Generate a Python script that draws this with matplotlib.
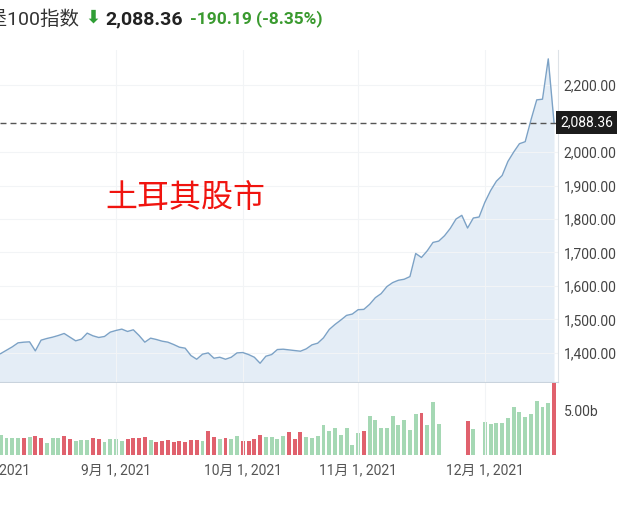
import numpy as np
import pandas as pd
import matplotlib
matplotlib.use("Agg")
import matplotlib.pyplot as plt
from matplotlib.transforms import blended_transform_factory

plt.rcParams['font.family'] = ['Roboto', 'Noto Sans CJK SC', 'DejaVu Sans']

# trading days (BIST closed on Aug 30 and Oct 29)
holidays = pd.to_datetime(['2021-08-30', '2021-10-29'])
dates = pd.bdate_range('2021-08-02', '2021-12-17')
dates = dates[~dates.isin(holidays)]

close = [1390, 1398, 1408, 1418, 1430, 1432, 1433, 1406, 1438, 1443,
         1447, 1452, 1458, 1447, 1436, 1441, 1459, 1451, 1446, 1449,
         1462, 1467, 1471, 1464, 1469, 1452, 1432, 1444, 1440, 1435,
         1432, 1425, 1417, 1414, 1392, 1381, 1396, 1400, 1384, 1387,
         1381, 1387, 1400, 1401, 1395, 1387, 1369, 1390, 1395, 1410,
         1411, 1409, 1407, 1405, 1412, 1424, 1429, 1445, 1470, 1485,
         1498, 1512, 1516, 1529, 1530, 1545, 1565, 1577, 1598, 1610,
         1617, 1620, 1628, 1697, 1685, 1705, 1730, 1734, 1750, 1772,
         1800, 1811, 1773, 1803, 1806, 1850, 1885, 1913, 1930, 1972,
         2000, 2025, 2031, 2096, 2156, 2158, 2278.55, 2088.36]

# volume in billions, 0 = no data
volume = [2.00, 2.27, 1.97, 1.97, 1.89, 1.89, 2.01, 2.16, 1.97, 1.40,
          1.97, 1.89, 2.16, 1.78, 1.59, 1.70, 1.70, 1.89, 1.78, 1.52,
          1.82, 1.78, 1.59, 1.78, 1.89, 1.97, 2.01, 1.70, 1.52, 1.63,
          1.70, 1.52, 1.59, 1.52, 1.70, 1.70, 1.59, 2.73, 2.01, 1.78,
          1.89, 1.78, 2.16, 1.59, 1.59, 1.78, 2.27, 2.01, 2.01, 1.78,
          2.16, 2.58, 1.78, 2.58, 2.01, 1.89, 2.16, 3.41, 2.73, 3.03,
          2.27, 3.03, 1.14, 2.54, 2.73, 4.40, 3.98, 3.10, 3.10, 4.43,
          3.41, 3.98, 2.84, 4.66, 4.81, 3.41, 6.06, 3.52, 0, 0,
          0, 0, 3.86, 2.92, 0, 3.79, 3.52, 3.67, 3.67, 4.24,
          5.49, 4.92, 4.36, 4.62, 6.17, 5.49, 5.87, 8.30]

vol_dir = ("GGGGGRGRRG" "GGRRGGGRRG" "GGGRRRRGRR" "RRRRRRGRRG" "RGGRRRRGGG"
           "GRRRGGGGGG" "GGGGRGGGGG" "GGGGRGGGGG" "GGRGGGGGGG" "GGGGGGGR")

price_ticks = [1400, 1500, 1600, 1700, 1800, 1900, 2000, 2200]
month_starts = ['2021-09-01', '2021-10-01', '2021-11-01', '2021-12-01']
month_labels = ['9月 1, 2021', '10月 1, 2021', '11月 1, 2021', '12月 1, 2021']

last = close[-1]
prev = close[-2]

x = np.arange(len(close))
tick_pos = [dates.get_indexer([pd.Timestamp(d)], method='bfill')[0] for d in month_starts]

line_c = '#7ca2c6'
fill_c = '#e4edf6'
grid_c = '#f2f4f6'
up_c = '#a5d8b4'
down_c = '#e0616d'

fig = plt.figure(figsize=(6.4, 5.08), dpi=100)
W, H = 640, 508
ax = fig.add_axes([0, 126 / H, 558 / W, 332 / H])
axv = fig.add_axes([0, 53 / H, 558 / W, 72 / H], sharex=ax)

# price panel
ymin, ymax = 1313, 2305
ax.fill_between(x, close, ymin, color=fill_c, lw=0)
ax.plot(x, close, color=line_c, lw=1.0)
ax.axhline(last, color='#555555', lw=1.0, dashes=(4.3, 2.9))
ax.set_xlim(0.87, 97.69)
ax.set_ylim(ymin, ymax)
ax.yaxis.tick_right()
ax.set_yticks(price_ticks)
ax.set_yticklabels([f"{t:,.2f}" for t in price_ticks])
ax.tick_params(axis='y', length=0, pad=4, labelsize=10, labelcolor='#444444')
ax.set_xticks(tick_pos)
ax.tick_params(axis='x', length=0, labelbottom=False)
ax.grid(True, color=grid_c, lw=0.8)
for s in ['top', 'left']:
    ax.spines[s].set_visible(False)
ax.spines['right'].set_color('#dde2e7')
ax.spines['bottom'].set_color('#c9d3dd')

ax.text(1.004, last, f"{last:,.2f}", transform=blended_transform_factory(ax.transAxes, ax.transData),
        ha='left', va='center', color='white', fontsize=10,
        bbox=dict(boxstyle='square,pad=0.3', fc='#1c1c1c', ec='none'))

# volume panel
colors = [up_c if d == 'G' else down_c for d in vol_dir]
axv.bar(x, volume, width=0.68, color=colors, lw=0)
axv.set_ylim(0, 8.18)
axv.yaxis.tick_right()
axv.set_yticks([5])
axv.set_yticklabels(['5.00b'])
axv.tick_params(axis='y', length=0, pad=4, labelsize=10, labelcolor='#444444')
axv.set_xticks(tick_pos)
axv.set_xticklabels(month_labels)
axv.tick_params(axis='x', length=0, pad=6, labelsize=10, labelcolor='#555555')
axv.grid(True, axis='x', color=grid_c, lw=0.8)
for s in ['top', 'left', 'right', 'bottom']:
    axv.spines[s].set_visible(False)
# label of the first month, mostly cut off by the left edge as in the source
axv.text(0, -0.111, '8月 1, 2021', transform=blended_transform_factory(axv.transData, axv.transAxes),
         ha='center', va='top', fontsize=10, color='#555555', clip_on=False)

# header
fig.text(80 / W, 1 - 19 / H, '伊斯坦堡100指数', ha='right', va='center', fontsize=14, color='#333333')
fig.text(93 / W, 1 - 18 / H, '⬇', ha='center', va='center', fontsize=13, color='#2f9e35',
         family='DejaVu Sans', fontweight='bold')
fig.text(105 / W, 1 - 19 / H, f"{last:,.2f}", ha='left', va='center', fontsize=14,
         fontweight='bold', color='#222222')
fig.text(190 / W, 1 - 19 / H, f"{last - prev:,.2f}", ha='left', va='center', fontsize=12.5,
         fontweight='bold', color='#3a9a2f')
fig.text(256 / W, 1 - 19 / H, f"({(last - prev) / prev * 100:.2f}%)", ha='left', va='center',
         fontsize=12.5, fontweight='bold', color='#3a9a2f')

fig.text(185 / W, 1 - 198 / H, '土耳其股市', ha='center', va='center', fontsize=23,
         color='#f0140f', family='Noto Sans CJK SC')

fig.savefig('out.png', dpi=100)
